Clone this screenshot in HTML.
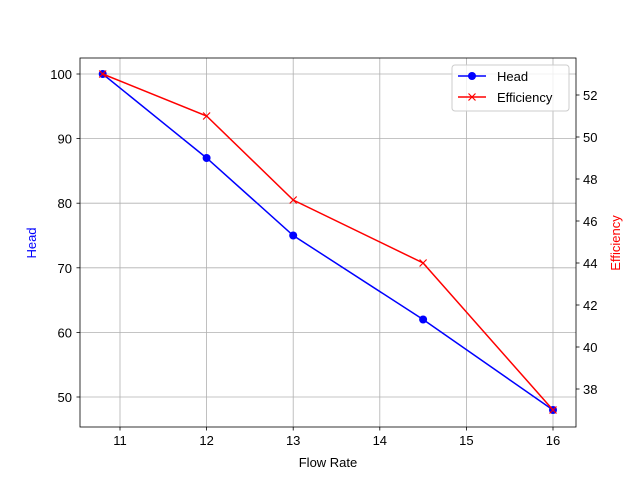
<!DOCTYPE html>
<html><head><meta charset="utf-8"><style>body{margin:0;background:#fff}svg{display:block;font-family:"Liberation Sans","DejaVu Sans",sans-serif}</style></head><body>
<svg width="640" height="480" viewBox="0 0 640 480">
<rect width="640" height="480" fill="#fff"/>
<g stroke="#b0b0b0" stroke-width="0.8">
<line x1="120" y1="58" x2="120" y2="427"/><line x1="206.6" y1="58" x2="206.6" y2="427"/><line x1="293.2" y1="58" x2="293.2" y2="427"/><line x1="379.8" y1="58" x2="379.8" y2="427"/><line x1="466.4" y1="58" x2="466.4" y2="427"/><line x1="553" y1="58" x2="553" y2="427"/>
<line x1="80" y1="74" x2="576" y2="74"/><line x1="80" y1="138.6" x2="576" y2="138.6"/><line x1="80" y1="203.2" x2="576" y2="203.2"/><line x1="80" y1="267.8" x2="576" y2="267.8"/><line x1="80" y1="332.4" x2="576" y2="332.4"/><line x1="80" y1="397" x2="576" y2="397"/>
</g>
<polyline fill="none" stroke="#0000ff" stroke-width="1.5" points="102.7,74 206.6,158 293.2,235.5 423.1,319.5 553,410"/>
<g fill="#0000ff"><circle cx="102.7" cy="74" r="4"/><circle cx="206.6" cy="158" r="4"/><circle cx="293.2" cy="235.5" r="4"/><circle cx="423.1" cy="319.5" r="4"/><circle cx="553" cy="410" r="4"/></g>
<polyline fill="none" stroke="#ff0000" stroke-width="1.5" points="102.7,74 206.6,116 293.2,200 423.1,263 553,410"/>
<g stroke="#ff0000" stroke-width="1.2">
<path d="M99.2 70.5l7 7m0-7l-7 7"/><path d="M203.1 112.5l7 7m0-7l-7 7"/><path d="M289.7 196.5l7 7m0-7l-7 7"/><path d="M419.6 259.5l7 7m0-7l-7 7"/><path d="M549.5 406.5l7 7m0-7l-7 7"/>
</g>
<rect x="80" y="58" width="496" height="369" fill="none" stroke="#000" stroke-width="0.8"/>
<g stroke="#000" stroke-width="0.8">
<line x1="120" y1="427" x2="120" y2="430.5"/><line x1="206.6" y1="427" x2="206.6" y2="430.5"/><line x1="293.2" y1="427" x2="293.2" y2="430.5"/><line x1="379.8" y1="427" x2="379.8" y2="430.5"/><line x1="466.4" y1="427" x2="466.4" y2="430.5"/><line x1="553" y1="427" x2="553" y2="430.5"/>
<line x1="76.5" y1="74" x2="80" y2="74"/><line x1="76.5" y1="138.6" x2="80" y2="138.6"/><line x1="76.5" y1="203.2" x2="80" y2="203.2"/><line x1="76.5" y1="267.8" x2="80" y2="267.8"/><line x1="76.5" y1="332.4" x2="80" y2="332.4"/><line x1="76.5" y1="397" x2="80" y2="397"/>
<line x1="576" y1="95" x2="579.5" y2="95"/><line x1="576" y1="137" x2="579.5" y2="137"/><line x1="576" y1="179" x2="579.5" y2="179"/><line x1="576" y1="221" x2="579.5" y2="221"/><line x1="576" y1="263" x2="579.5" y2="263"/><line x1="576" y1="305" x2="579.5" y2="305"/><line x1="576" y1="347" x2="579.5" y2="347"/><line x1="576" y1="389" x2="579.5" y2="389"/>
</g>
<g font-size="13" fill="#000" text-anchor="middle">
<text x="120" y="445">11</text><text x="206.6" y="445">12</text><text x="293.2" y="445">13</text><text x="379.8" y="445">14</text><text x="466.4" y="445">15</text><text x="553" y="445">16</text>
<text x="328" y="467">Flow Rate</text>
</g>
<g font-size="13" fill="#000" text-anchor="end">
<text x="72" y="79">100</text><text x="72" y="143.6">90</text><text x="72" y="208.2">80</text><text x="72" y="272.8">70</text><text x="72" y="337.4">60</text><text x="72" y="402">50</text>
</g>
<g font-size="13" fill="#000">
<text x="583" y="100">52</text><text x="583" y="142">50</text><text x="583" y="184">48</text><text x="583" y="226">46</text><text x="583" y="268">44</text><text x="583" y="310">42</text><text x="583" y="352">40</text><text x="583" y="394">38</text>
</g>
<text x="36" y="243" font-size="13" fill="#0000ff" text-anchor="middle" transform="rotate(-90 36 243)">Head</text>
<text x="620" y="243" font-size="13" fill="#ff0000" text-anchor="middle" transform="rotate(-90 620 243)">Efficiency</text>
<rect x="452" y="65" width="117" height="46" rx="3" fill="#fff" fill-opacity="0.8" stroke="#ccc"/>
<line x1="458" y1="76" x2="486" y2="76" stroke="#0000ff" stroke-width="1.5"/><circle cx="472" cy="76" r="4" fill="#0000ff"/>
<line x1="458" y1="97" x2="486" y2="97" stroke="#ff0000" stroke-width="1.5"/><path d="M468.5 93.5l7 7m0-7l-7 7" stroke="#ff0000" stroke-width="1.2"/>
<text x="497" y="81" font-size="13">Head</text><text x="497" y="102" font-size="13">Efficiency</text>
</svg>
</body></html>
